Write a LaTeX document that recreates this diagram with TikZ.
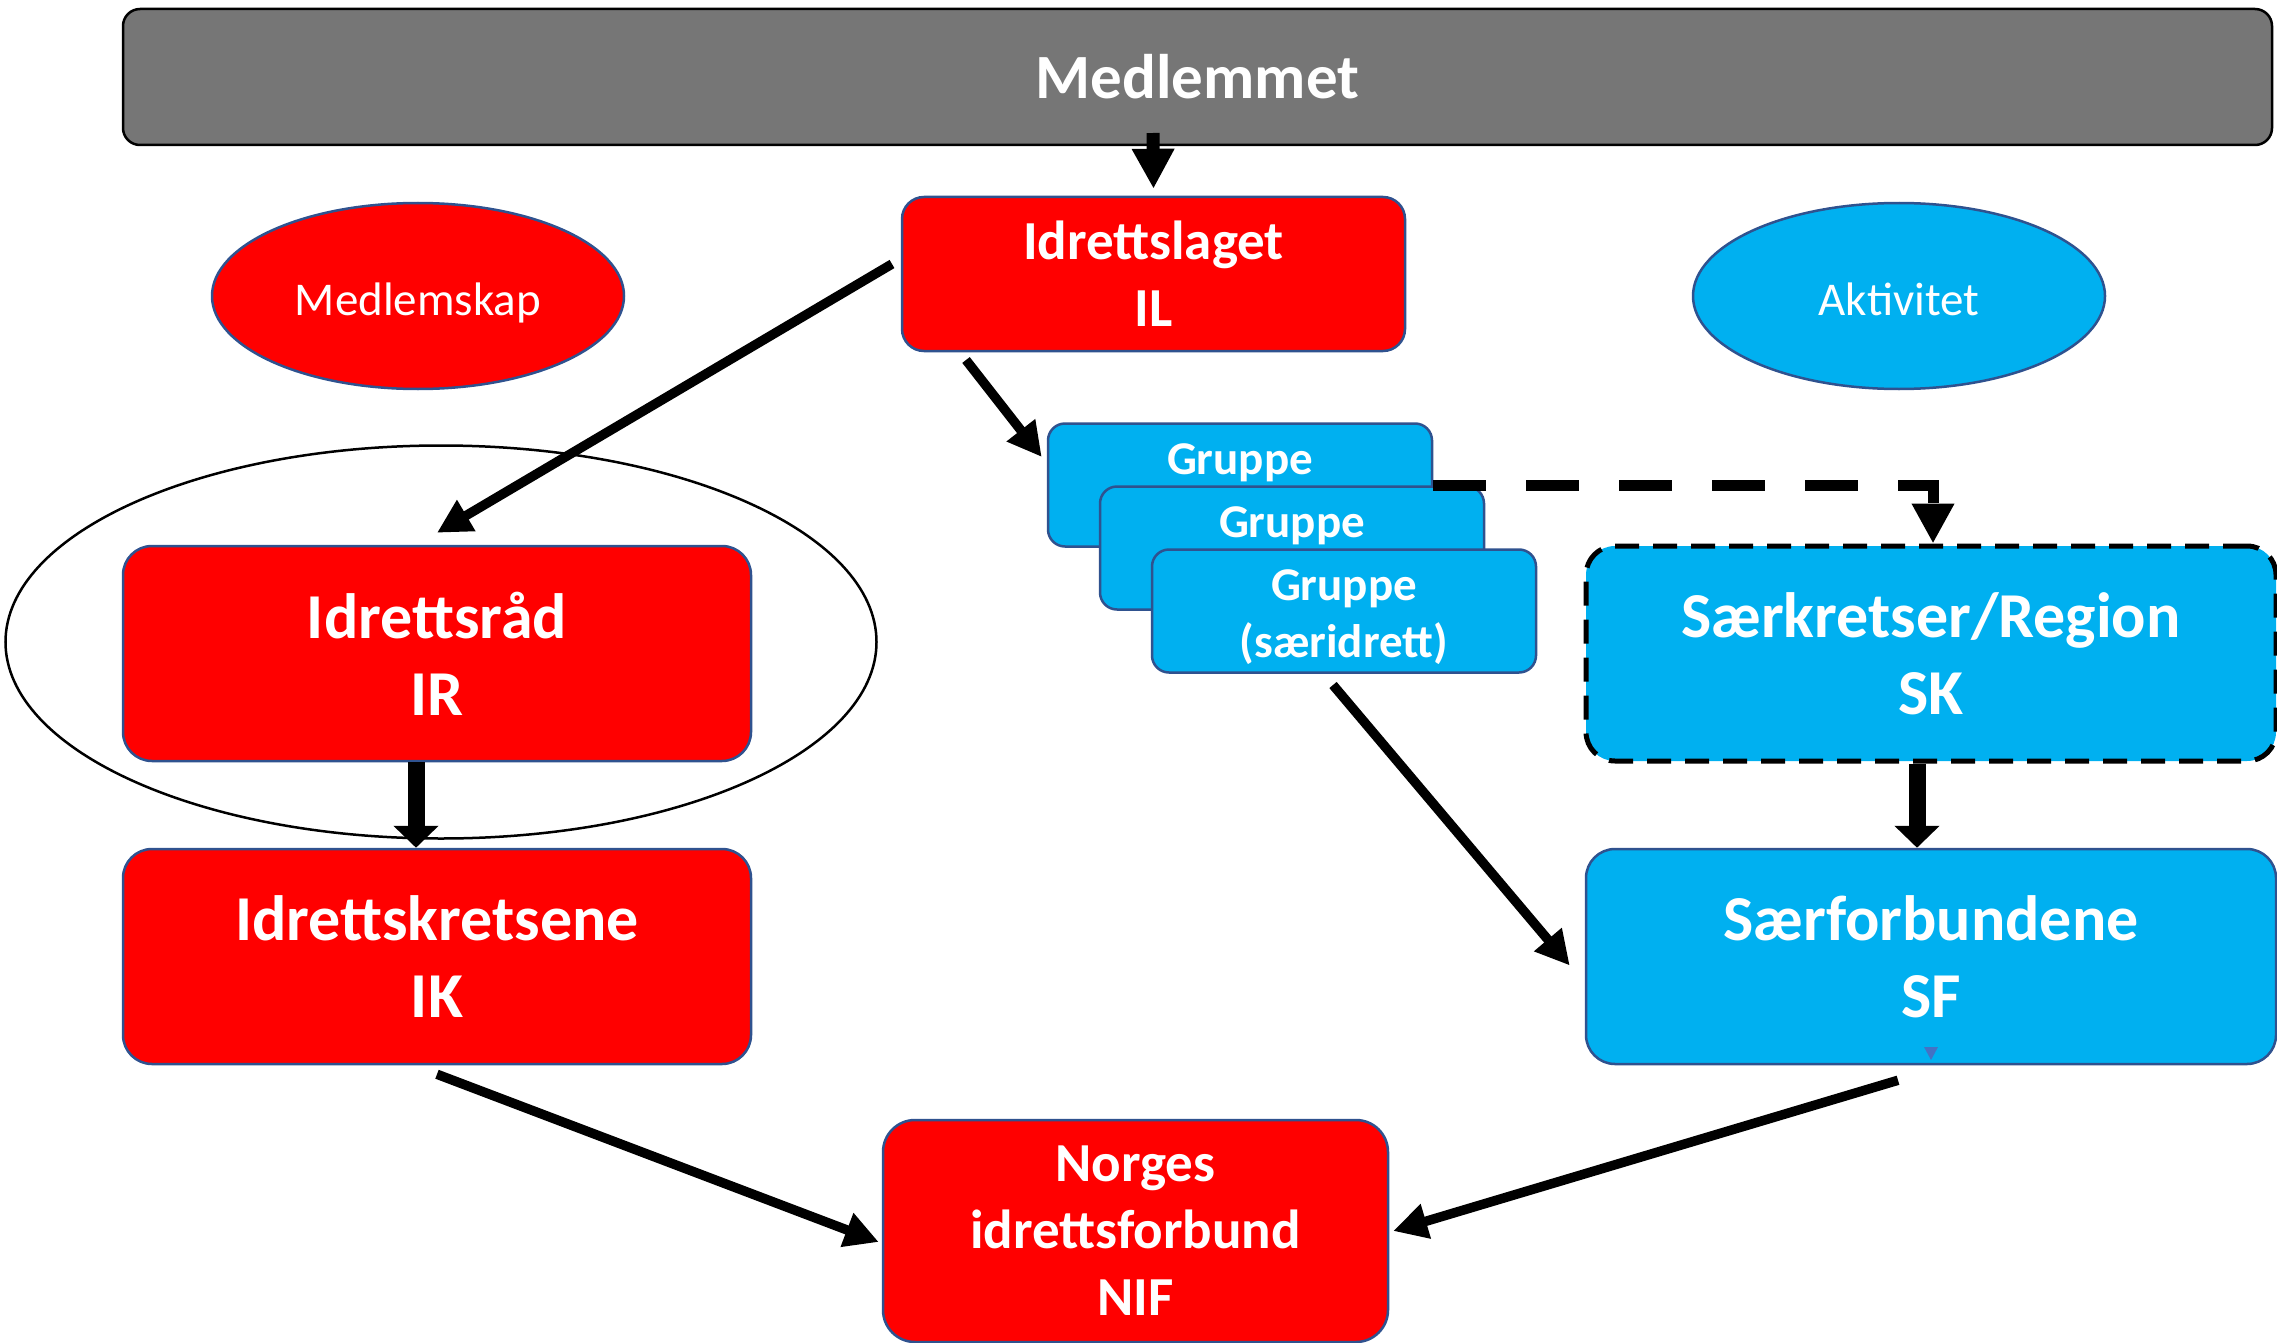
\documentclass[tikz,border=0pt]{standalone}
\usepackage{fontspec}
\setmainfont{Carlito}
\usetikzlibrary{shapes.geometric,arrows.meta}
\definecolor{nifred}{HTML}{FF0000}
\definecolor{nifblue}{HTML}{00B0F0}
\definecolor{edgeblue}{HTML}{2F528F}
\definecolor{bargray}{HTML}{767676}
\definecolor{tipblue}{HTML}{4472C4}
\tikzset{
    box/.style={rectangle,line width=2.5pt,draw=edgeblue,text=white,
        align=center,inner sep=0pt},
    redbox/.style={box,fill=nifred},
    bluebox/.style={box,fill=nifblue},
    bigtext/.style={font=\fontsize{64}{77}\selectfont\bfseries},
    midtext/.style={font=\fontsize{55}{67}\selectfont\bfseries},
    gruppebox/.style={bluebox,rounded corners=17pt,minimum width=384pt,
        minimum height=123pt,font=\fontsize{47}{57}\selectfont\bfseries},
    tag/.style={ellipse,line width=2.5pt,draw=edgeblue,text=white,
        minimum width=412pt,minimum height=186pt,inner sep=0pt,
        text height=38pt,text depth=0pt,font=\fontsize{47}{57}\selectfont},
    thinarrow/.style={line width=9.5pt,-{Triangle[width=34pt,length=34pt]}},
    blockarrow/.style={line width=17pt,-{Triangle[width=44pt,length=22pt]}},
}

\begin{document}
\begin{tikzpicture}[x=1pt,y=-1pt]
    \useasboundingbox (0,0) rectangle (2277,1343);
    \node[rectangle,draw=black,line width=2.5pt,fill=bargray,text=white,
        rounded corners=17pt,minimum width=2149pt,minimum height=136pt,
        font=\fontsize{63}{76}\selectfont\bfseries] (top)
        at (1197.5,77) {Medlemmet};
    \node[redbox,midtext,rounded corners=22pt,minimum width=503pt,minimum height=154pt] (il)
        at (1153.5,274) {Idrettslaget\\IL};
    \node[tag,fill=nifred] (medlemskap)
        at (418,296) {Medlemskap};
    \node[tag,fill=nifblue] (aktivitet)
        at (1899,296) {Aktivitet};
    \node[ellipse,draw=black,line width=2.5pt,minimum width=871pt,minimum height=393pt] (ring)
        at (441,642) {};
    \node[redbox,bigtext,rounded corners=29pt,minimum width=628pt,minimum height=215pt] (ir)
        at (437,653.5) {Idrettsråd\\IR};
    \node[redbox,bigtext,rounded corners=29pt,minimum width=628pt,minimum height=215pt] (ik)
        at (437,956.5) {Idrettskretsene\\IK};
    \node[bluebox,bigtext,draw=black,line width=5pt,dash pattern=on 24pt off 14pt,
        rounded corners=29pt,minimum width=690pt,minimum height=215pt] (sk)
        at (1931,653.5) {Særkretser/Region\\SK};
    \node[bluebox,bigtext,rounded corners=29pt,minimum width=690pt,minimum height=215pt] (sf)
        at (1931,956.5) {Særforbundene\\SF};
    \node[redbox,midtext,rounded corners=32pt,minimum width=505pt,minimum height=222pt] (nif)
        at (1135.5,1231) {Norges\\idrettsforbund\\NIF};
    \foreach \i/\sub in {1/{\phantom{(særidrett)}},2/{\phantom{(særidrett)}},3/{(særidrett)}}
        \node[gruppebox] (g\i)
            at ({1240+52*(\i-1)},{485+63*(\i-1)}) {\rule{0pt}{44pt}Gruppe\\\sub};
    \fill[tipblue] (1924,1047) -- (1938,1047) -- (1931,1060) -- cycle;

    \coordinate (m0) at (1153,133);
    \coordinate (il0) at (892,264);
    \coordinate (il1) at (966,360);
    \coordinate (g0) at (1333,685);
    \draw[line width=13pt,-{Triangle[width=40pt,length=40pt]}] (m0) -- ([yshift=7pt]il.north);
    \draw[thinarrow] (il0) -- ([yshift=12pt]ir.north);
    \draw[thinarrow] (il1) -- ([xshift=-5pt,yshift=28pt]g1.west);
    \draw[line width=11pt,dash pattern=on 53pt off 40pt,
        -{Triangle[width=40pt,length=40pt]}] (g1.east) -| ([xshift=2pt]sk.north);
    \draw[thinarrow] (g0) -- ([xshift=-15pt,yshift=-9pt]sf.west);
    \draw[blockarrow] ([xshift=-21pt]ir.south) -- ([xshift=-21pt]ik.north);
    \draw[blockarrow] ([xshift=-14pt]sk.south) -- ([xshift=-14pt]sf.north);
    \draw[thinarrow] ([yshift=-9pt]ik.south) -- ([xshift=-3pt,yshift=-11pt]nif.west);
    \draw[thinarrow] ([xshift=-33pt,yshift=-15pt]sf.south) -- ([xshift=4pt]nif.east);
\end{tikzpicture}
\end{document}
